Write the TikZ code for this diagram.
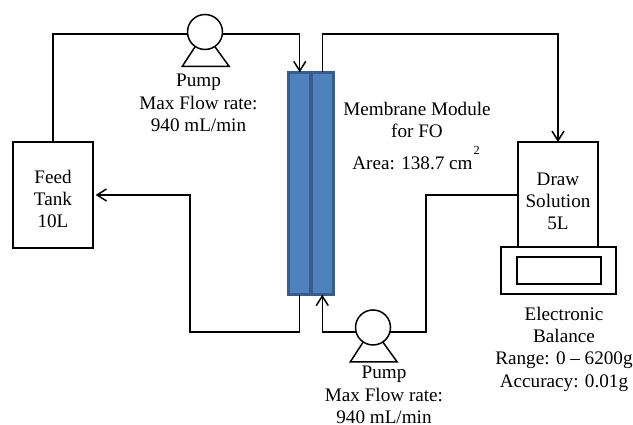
\documentclass[tikz,border=0pt]{standalone}
\usepackage{fontspec}
\setmainfont{Liberation Serif}
\usepackage{tikz}
\usetikzlibrary{arrows.meta,positioning,calc}

\definecolor{modfill}{HTML}{4F81BD}
\definecolor{modline}{HTML}{385D8A}

\begin{document}
\begin{tikzpicture}[
  >={Straight Barb[length=1.9mm,width=2.4mm]},
  every node/.style={font=\fontsize{10.9}{12.7}\selectfont},
  pipe/.style={draw, line width=0.85pt},
  tank/.style={draw, line width=0.85pt, align=center, outer sep=0pt},
  pump/.style={circle, draw, line width=0.85pt, minimum size=0.7cm, inner sep=0pt, outer sep=0pt},
  mod/.style={draw=modline, fill=modfill, line width=1.8pt, minimum width=0.45cm, minimum height=4.45cm, outer sep=0pt},
  lbl/.style={align=center, inner sep=0pt}
]
\useasboundingbox (0,0) rectangle (12.66,8.5);
% vessels
\node[tank, minimum width=1.6cm, minimum height=2.12cm] (feed) at (1.06,4.6) {};
\node[tank, minimum width=1.6cm, minimum height=2.1cm] (draw) at (11.16,4.61) {};
\node[tank, minimum width=2.3cm, minimum height=0.94cm] (balance) at (11.17,3.09) {};
\node[tank, minimum width=1.68cm, minimum height=0.54cm] (display) at (11.18,3.09) {};
% membrane module
\node[mod] (modL) at (5.995,4.83) {};
\node[mod] (modR) at (6.445,4.83) {};
% pumps
\node[pump] (pumpT) at (4.1,7.86) {};
\node[pump] (pumpB) at (7.46,1.95) {};
\foreach \p in {pumpT,pumpB}
  \draw[line width=0.85pt] (\p.236) -- ++(-0.26,-0.4) -- ++(0.94,0) -- (\p.-56);
% piping
\draw[pipe] (feed.north) |- (pumpT.186);
\draw[pipe,->] (pumpT.-6) -| (modL.north);
\draw[pipe,->] (modR.north) |- (8,7.82) -| (draw.north);
\draw[pipe,->,shorten >=1.5pt] (modL.south) |- (3.8,1.86) |- (feed.east);
\draw[pipe,->] (pumpB.195) -| (modR.south);
\draw[pipe] (pumpB.-15) -| (8.52,4.6) -- (draw.west |- 8.52,4.6);
% labels
\node[lbl] (feedlbl) at (1.06,4.52) {Feed\\Tank\\10L};
\node[lbl] (drawlbl) at (11.16,4.47) {Draw\\Solution\\5L};
\node[lbl] (pumpTlbl) at (3.97,6.44) {Pump\\Max Flow rate:\\940 mL/min};
\node[lbl] (pumpBlbl) at (7.68,0.6) {Pump\\Max Flow rate:\\940 mL/min};
\node[lbl] (modlbl) at (8.34,6.1) {Membrane Module\\for FO};
\node[lbl,anchor=west] (arealbl) at (7.04,5.34) {Area: 138.7 cm\hspace{0.6pt}\raisebox{8.4pt}{\fontsize{7}{7}\selectfont 2}};
\node[lbl] (ballbl) at (11.28,1.52) {Electronic\\Balance\\Range: 0 -- 6200g\\Accuracy: 0.01g};
\end{tikzpicture}
\end{document}
